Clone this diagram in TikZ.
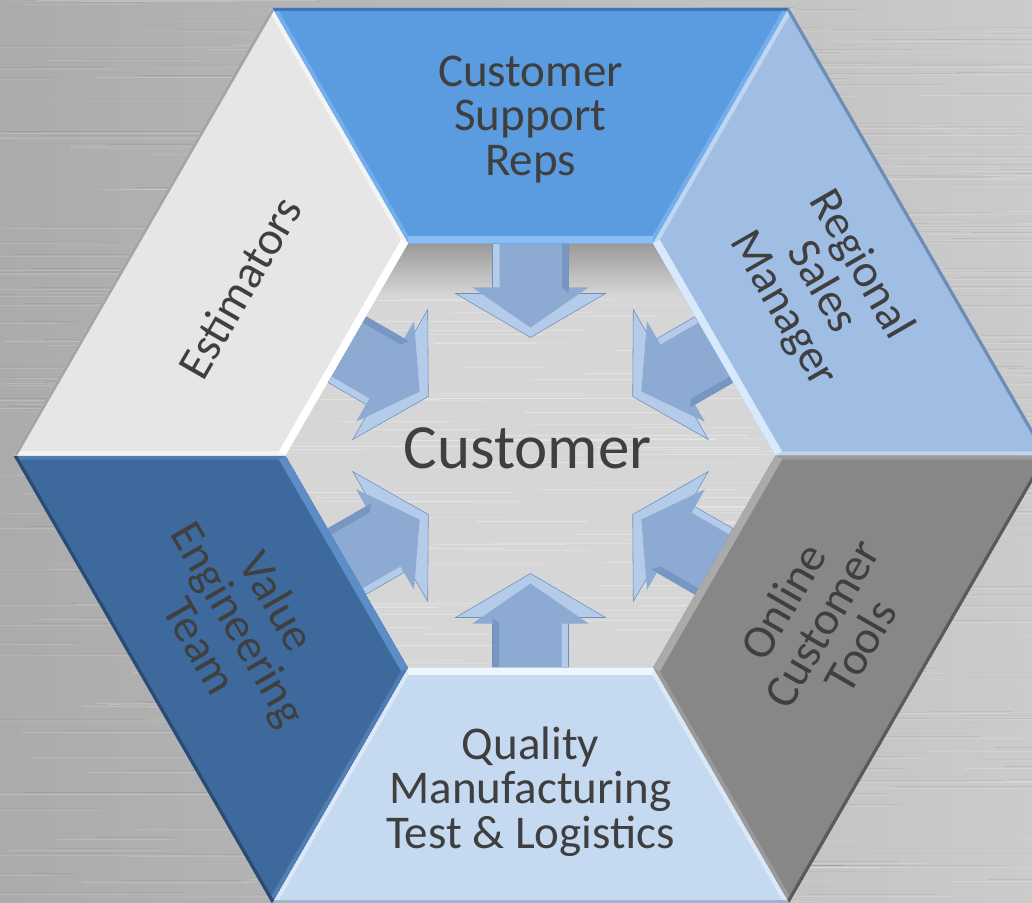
\documentclass[tikz,border=0pt]{standalone}
\usepackage{fontspec}
\setmainfont{Carlito}
\definecolor{bgdark}{HTML}{ABABAB}
\definecolor{bglight}{HTML}{CBCBCB}
\definecolor{hubfill}{HTML}{D6D6D6}
\definecolor{textgray}{HTML}{3F3F3F}
\definecolor{arrowfill}{HTML}{8CAAD2}
\definecolor{arrowlight}{HTML}{B4CCEA}
\definecolor{arrowdark}{HTML}{6F8EBB}
% panel colours: fill, inner bevel, outer rim
\definecolor{supportfill}{HTML}{5B9BE0}
\definecolor{supportedge}{HTML}{88BDF5}
\definecolor{supportrim}{HTML}{3F74B5}
\definecolor{regionalfill}{HTML}{A0BEE4}
\definecolor{regionaledge}{HTML}{D8E9FC}
\definecolor{regionalrim}{HTML}{6E8DB5}
\definecolor{onlinefill}{HTML}{878787}
\definecolor{onlineedge}{HTML}{AAAAAA}
\definecolor{onlinerim}{HTML}{5A5A5A}
\definecolor{qualityfill}{HTML}{C5D9F1}
\definecolor{qualityedge}{HTML}{EDF5FE}
\definecolor{qualityrim}{HTML}{9DB5D3}
\definecolor{valuefill}{HTML}{3D699D}
\definecolor{valueedge}{HTML}{5D8DC6}
\definecolor{valuerim}{HTML}{2A4B73}
\definecolor{estimatorsfill}{HTML}{E6E6E6}
\definecolor{estimatorsedge}{HTML}{FFFFFF}
\definecolor{estimatorsrim}{HTML}{A5A5A5}
\tikzset{
    paneltext/.style={align=center,text=textgray,inner sep=0,font=\panelfontsize},
    hubtext/.style={text=textgray,inner sep=0,font=\hubfontsize}
}
\begin{document}
\begin{tikzpicture}[x=0.25mm,y=0.25mm]
    \pgfmathsetmacro{\outerradius}{517}
    \pgfmathsetmacro{\innerradius}{245}
    \pgfmathsetmacro{\labelradius}{336}
    \providecommand{\panelfontsize}{\fontsize{33.4pt}{31.8pt}\selectfont}
    \providecommand{\hubfontsize}{\fontsize{44.8pt}{50pt}\selectfont}
    \useasboundingbox (-530.5,-446.5) rectangle (501.5,455.5);
    % brushed metal background
    \shade[left color=bgdark,right color=bglight] (-530.5,-446.5) rectangle (501.5,455.5);
    \pgfmathsetseed{17}
    \foreach \i in {1,...,420}{
        \pgfmathsetmacro{\streaky}{-446.5+902*rnd}
        \pgfmathsetmacro{\streakx}{-600+1100*rnd}
        \pgfmathsetmacro{\streakl}{60+320*rnd}
        \pgfmathsetmacro{\streako}{0.05+0.15*rnd}
        \draw[white,opacity=\streako,line width=0.5pt] (\streakx,\streaky) -- ++(\streakl,0);
        \draw[black,opacity=\streako*0.35,line width=0.4pt] (\streakx+40,\streaky+2) -- ++(\streakl*0.7,0);
    }
    % hub
    \fill[hubfill] (0:\innerradius) \foreach \a in {60,120,...,300}{ -- (\a:\innerradius)} -- cycle;
    \begin{scope}
        \clip (0:\innerradius) \foreach \a in {60,120,...,300}{ -- (\a:\innerradius)} -- cycle;
        \foreach \i in {1,...,120}{
            \pgfmathsetmacro{\streaky}{-215+430*rnd}
            \pgfmathsetmacro{\streakx}{-300+500*rnd}
            \pgfmathsetmacro{\streako}{0.1+0.25*rnd}
            \draw[white,opacity=\streako,line width=0.5pt] (\streakx,\streaky) -- ++(60+200*rnd,0);
        }
        \shade[top color=gray!80,bottom color=hubfill] (-300,213) rectangle (300,160);
    \end{scope}
    % arrows into the hub
    \foreach \a in {90,30,-30,-90,210,150}{
        \begin{scope}[rotate=\a-90]
            \fill[arrowlight,draw=arrowdark,line width=0.4pt] (-38,212) -- (-38,162) -- (-75,162) -- (0,118) -- (75,162) -- (38,162) -- (38,212) -- cycle;
            \fill[arrowfill] (-31,212) -- (-31,168) -- (-58,168) -- (0,128) -- (58,168) -- (31,168) -- (31,212) -- cycle;
            \fill[arrowdark!70!arrowfill] (31,212) -- (31,168) -- (38,162) -- (38,212) -- cycle;
        \end{scope}
    }
    % panels
    \foreach \mid/\panel in {90/support,30/regional,-30/online,270/quality,210/value,150/estimators}{
        \pgfmathsetmacro{\lo}{\mid-30}
        \pgfmathsetmacro{\hi}{\mid+30}
        \begin{scope}
            \clip (\lo:\outerradius) -- (\hi:\outerradius) -- (\hi:\innerradius) -- (\lo:\innerradius) -- cycle;
            \fill[\panel fill] (\lo:\outerradius) -- (\hi:\outerradius) -- (\hi:\innerradius) -- (\lo:\innerradius) -- cycle;
            \draw[\panel edge!55!\panel fill,line width=6pt] (\lo:\outerradius) -- (\lo:\innerradius) (\hi:\outerradius) -- (\hi:\innerradius);
            \draw[\panel rim,line width=4.5pt] (\lo:\outerradius) -- (\hi:\outerradius);
            \draw[\panel edge,line width=11pt] (\hi:\innerradius) -- (\lo:\innerradius);
        \end{scope}
    }
    % labels
    \foreach \mid/\rot/\panel/\panellabel in {
        90/0/support/{Customer\\Support\\Reps},
        30/-60/regional/{Regional\\Sales\\Manager},
        -30/60/online/{Online\\Customer\\Tools},
        270/0/quality/{Quality\\Manufacturing\\Test \& Logistics},
        210/-60/value/{Value\\Engineering\\Team},
        150/60/estimators/{Estimators}}{
        \node[paneltext,rotate=\rot] (\panel) at (\mid:\labelradius) {\panellabel};
    }
    \node[hubtext,anchor=base] (customer) at (-3,-12.5) {Customer};
\end{tikzpicture}
\end{document}
